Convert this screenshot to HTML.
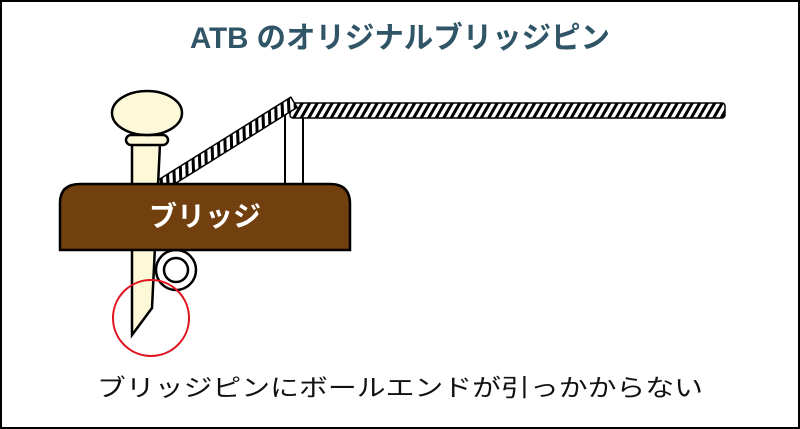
<!DOCTYPE html>
<html><head><meta charset="utf-8"><style>
html,body{margin:0;padding:0;background:#fff}
svg{display:block}
</style></head><body>
<svg width="800" height="429" viewBox="0 0 800 429" xmlns="http://www.w3.org/2000/svg">
<defs>
<pattern id="tw" width="7.5" height="30" patternUnits="userSpaceOnUse" patternTransform="skewX(-30)">
<rect width="7.5" height="30" fill="#fff"/>
<rect x="0" width="3.5" height="30" fill="#000"/>
</pattern>
</defs>
<rect x="1" y="1" width="798" height="427" fill="#fff" stroke="#000" stroke-width="2"/>
<text x="400" y="48" text-anchor="middle" font-family="Liberation Sans,'Noto Sans CJK JP',sans-serif" font-weight="bold" font-size="30" fill="#2f5566" textLength="420" lengthAdjust="spacingAndGlyphs">ATB のオリジナルブリッジピン</text>
<rect x="285" y="112" width="18" height="72" fill="#fff" stroke="#000" stroke-width="2"/>
<rect x="290" y="103" width="435" height="15" fill="url(#tw)" stroke="#000" stroke-width="1.5" rx="3"/>
<g transform="translate(160,186) rotate(-32)">
<rect x="0" y="-6" width="158" height="12" fill="url(#tw)" stroke="#000" stroke-width="1.5"/>
</g>
<path d="M132,144 L160,144 L152,308 L132,335 Z" fill="#fdf8d8" stroke="#000" stroke-width="2.5"/>
<rect x="126" y="135" width="42" height="10" rx="5" fill="#fdf8d8" stroke="#000" stroke-width="2.5"/>
<ellipse cx="147" cy="113" rx="35" ry="22" fill="#fdf8d8" stroke="#000" stroke-width="2.5"/>
<circle cx="176" cy="270" r="20" fill="#fff" stroke="#000" stroke-width="2.5"/>
<circle cx="176" cy="270" r="12" fill="#fff" stroke="#000" stroke-width="2.5"/>
<path d="M60,250 L60,203 Q60,184 80,184 L330,184 Q350,184 350,204 L350,250 Z" fill="#723f0e" stroke="#000" stroke-width="2.5"/>
<text x="205" y="226" text-anchor="middle" font-family="Liberation Sans,'Noto Sans CJK JP',sans-serif" font-weight="bold" font-size="28" fill="#fff">ブリッジ</text>
<circle cx="151" cy="318" r="38" fill="none" stroke="#e0141e" stroke-width="2"/>
<text x="400" y="396" text-anchor="middle" font-family="Liberation Sans,'Noto Sans CJK JP',sans-serif" font-size="24" fill="#111" textLength="606" lengthAdjust="spacingAndGlyphs">ブリッジピンにボールエンドが引っかからない</text>
</svg>
</body></html>
